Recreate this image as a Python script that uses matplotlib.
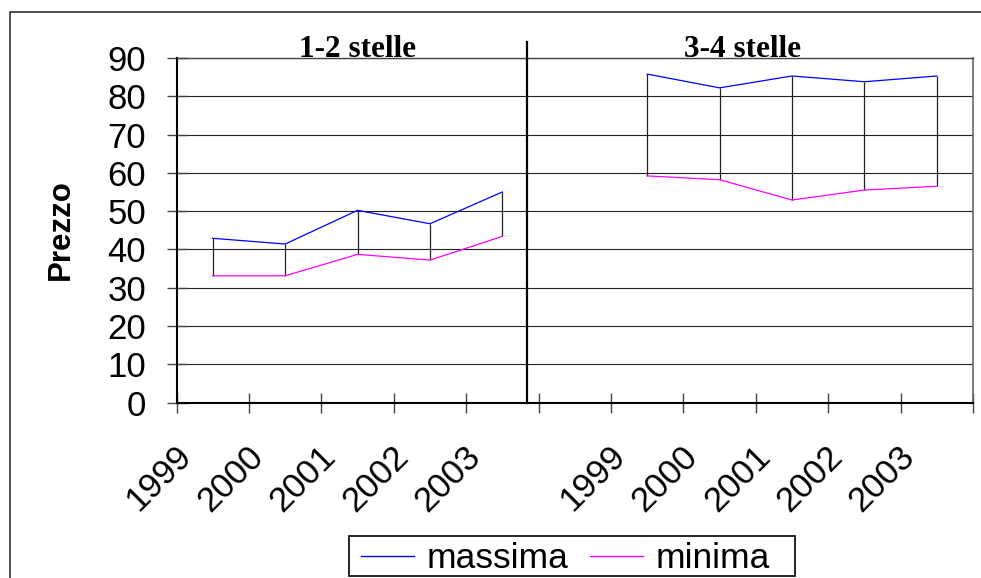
import numpy as np
import matplotlib
matplotlib.use('Agg')
import matplotlib.pyplot as plt
from matplotlib.lines import Line2D
from matplotlib.patches import Rectangle
from matplotlib.transforms import ScaledTranslation

plt.rcParams['font.family'] = 'Liberation Sans'

# prezzi per anno (massima / minima), due gruppi di hotel
anni = ['1999', '2000', '2001', '2002', '2003']
gruppi = ['1-2 stelle', '3-4 stelle']
max_12 = [42.9, 41.4, 50.2, 46.7, 55.0]
min_12 = [33.1, 33.1, 38.7, 37.2, 43.4]
max_34 = [85.8, 82.2, 85.3, 83.8, 85.3]
min_34 = [59.2, 58.2, 52.9, 55.5, 56.5]

# one empty category between the two groups
massima = np.array(max_12 + [np.nan] + max_34)
minima = np.array(min_12 + [np.nan] + min_34)
labels = anni + [''] + anni
x = np.arange(len(labels))

W, H = 981, 578
fig = plt.figure(figsize=(W / 100, H / 100), dpi=100)

# outer chart frame (cut by the image edges on the right and bottom)
fig.patches.append(Rectangle((10 / W, -0.1), 1.2, 1.1 - 12 / H, transform=fig.transFigure,
                             fill=False, edgecolor='#333333', lw=1.2))

ax = fig.add_axes([176.5 / W, (H - 402.5) / H, 796.5 / W, 344.5 / H])
ax.set_xlim(-0.5, len(labels) - 0.5)
ax.set_ylim(0, 90)

# high-low lines
ok = ~np.isnan(massima)
ax.vlines(x[ok], minima[ok], massima[ok], colors='#222222', lw=0.9, zorder=3)
ax.plot(x, massima, color='#0000ff', lw=0.9, zorder=4, label='massima')
ax.plot(x, minima, color='#ff00ff', lw=0.9, zorder=4, label='minima')

# grid and spines
ax.set_yticks(np.arange(0, 91, 10))
ax.yaxis.grid(True, color='#222222', lw=0.8)
ax.set_axisbelow(True)
ax.spines['left'].set_linewidth(1.5)
ax.spines['bottom'].set_linewidth(1.5)
ax.spines['top'].set_color('#444444')
ax.spines['top'].set_linewidth(1.0)
ax.spines['right'].set_color('#666666')
ax.spines['right'].set_linewidth(1.2)

ax.tick_params(axis='y', direction='inout', length=15, width=1, color='#444444',
               labelsize=25, pad=14.4)

# category boundaries as minor ticks, labels at centres
ax.set_xticks(np.arange(-0.5, len(labels), 1.0), minor=True)
ax.set_xticks(x, labels)
ax.tick_params(axis='x', which='minor', direction='inout', length=14.4, width=1, color='#444444')
ax.tick_params(axis='x', which='major', length=0, labelsize=25, pad=35)
shift = ScaledTranslation(-0.27, 0, fig.dpi_scale_trans)
for lab in ax.get_xticklabels():
    lab.set_rotation(45)
    lab.set_ha('right')
    lab.set_va('center')
    lab.set_rotation_mode('anchor')
    lab.set_transform(lab.get_transform() + shift)

# separator between the groups
ax.plot([4.34, 4.34], [0, 94.2], color='black', lw=1.6, clip_on=False, zorder=5)

# group titles
ax.text(2, 90.2, gruppi[0], ha='center', va='baseline', fontsize=22.5,
        fontweight='bold', family='Liberation Serif', clip_on=False)
ax.text(7.32, 90.2, gruppi[1], ha='center', va='baseline', fontsize=22.5,
        fontweight='bold', family='Liberation Serif', clip_on=False)

fig.text(61 / W, 1 - 230 / H, 'Prezzo', rotation=90, ha='center', va='center',
         fontsize=22.5, fontweight='bold')

# legend: box drawn separately, entries without frame
fig.patches.append(Rectangle((349 / W, 1 - 576 / H), 446 / W, 40 / H, transform=fig.transFigure,
                             fill=False, edgecolor='black', lw=1.2))
handles = [Line2D([], [], color='#0000ff', lw=1.0), Line2D([], [], color='#ff00ff', lw=1.0)]
fig.legend(handles, ['massima', 'minima'], loc='center left',
           bbox_to_anchor=(361 / W, 1 - 559 / H), ncol=2, fontsize=25.5,
           frameon=False, handlelength=1.5, handletextpad=0.35, columnspacing=0.6,
           borderpad=0, borderaxespad=0)

fig.savefig('out.png', dpi=100)
